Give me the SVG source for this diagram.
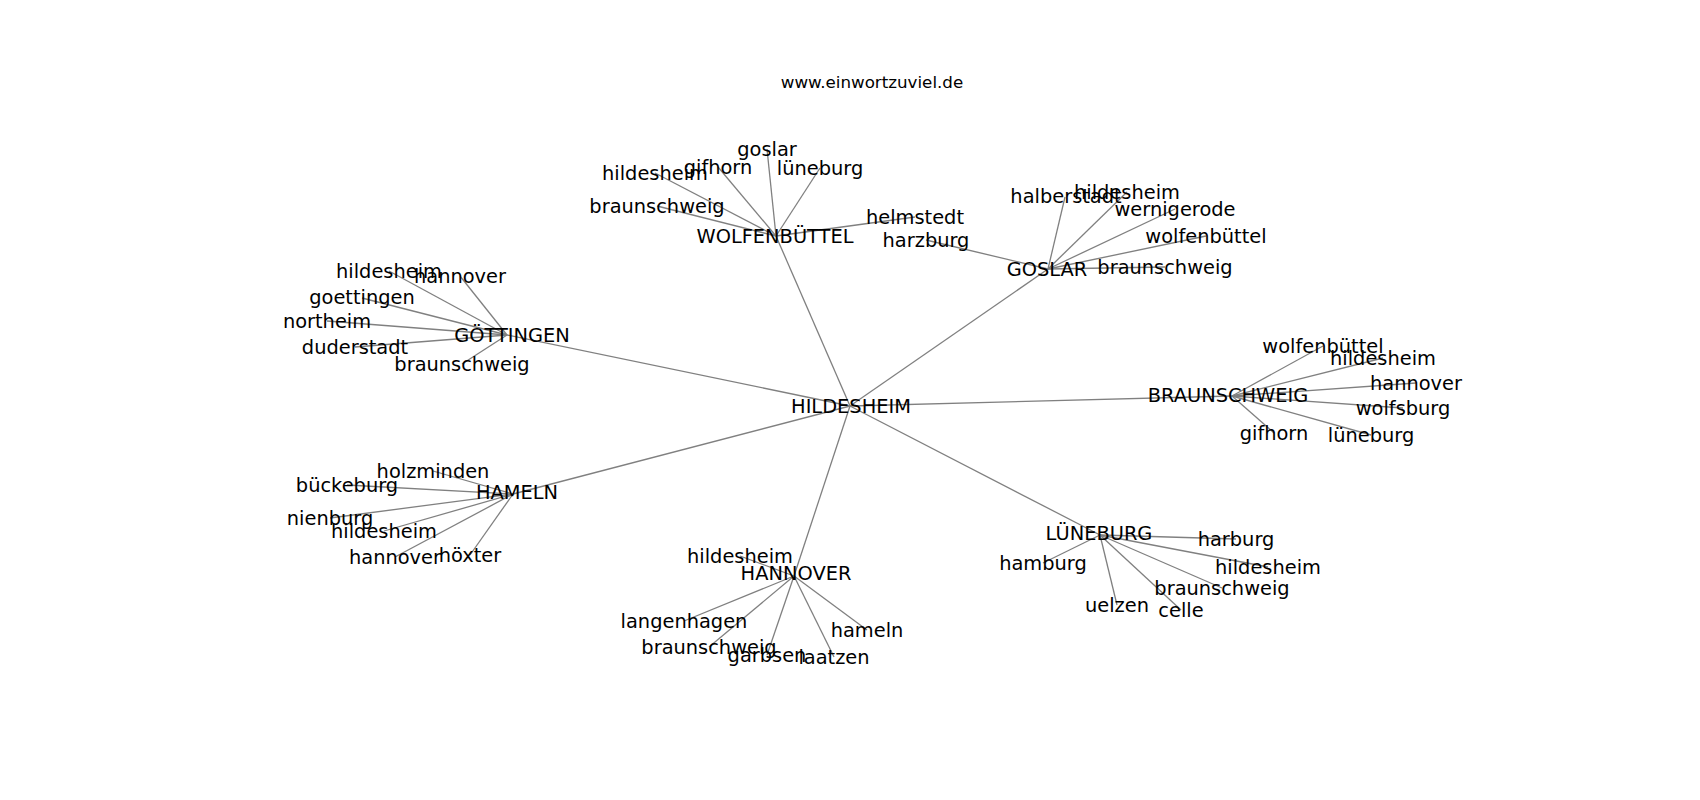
<svg xmlns="http://www.w3.org/2000/svg" width="1700" height="800" viewBox="0 0 1700 800">
<style>
.bg{fill:#ffffff}
.e{stroke:#808080;stroke-width:1.3;fill:none}
.n text{font-family:"DejaVu Sans",sans-serif;font-size:19.4px;fill:#000;text-anchor:middle;dominant-baseline:central}
.title{font-family:"DejaVu Sans",sans-serif;font-size:16.7px;fill:#000;text-anchor:middle}
</style>
<rect class="bg" x="0" y="0" width="1700" height="800"/>
<text class="title" x="872" y="88">www.einwortzuviel.de</text>
<g id="connectors">
<!-- hub -->
<line class="e" x1="850" y1="406" x2="776" y2="236"/>
<line class="e" x1="850" y1="406" x2="1048" y2="269"/>
<line class="e" x1="850" y1="406" x2="507" y2="335"/>
<line class="e" x1="850" y1="406" x2="1232" y2="396"/>
<line class="e" x1="850" y1="406" x2="513" y2="494"/>
<line class="e" x1="850" y1="406" x2="794" y2="576"/>
<line class="e" x1="850" y1="406" x2="1100" y2="535"/>
<!-- wolfenbuettel -->
<line class="e" x1="776" y1="236" x2="767" y2="149"/>
<line class="e" x1="776" y1="236" x2="718" y2="167"/>
<line class="e" x1="776" y1="236" x2="820" y2="168"/>
<line class="e" x1="776" y1="236" x2="655" y2="173"/>
<line class="e" x1="776" y1="236" x2="657" y2="206"/>
<line class="e" x1="776" y1="236" x2="915" y2="217"/>
<!-- goslar -->
<line class="e" x1="1048" y1="269" x2="1065" y2="197"/>
<line class="e" x1="1048" y1="269" x2="1127" y2="192"/>
<line class="e" x1="1048" y1="269" x2="1175" y2="209"/>
<line class="e" x1="1048" y1="269" x2="1206" y2="236"/>
<line class="e" x1="1048" y1="269" x2="1165" y2="267"/>
<line class="e" x1="1048" y1="269" x2="926" y2="240"/>
<!-- goettingen -->
<line class="e" x1="507" y1="335" x2="389" y2="271"/>
<line class="e" x1="507" y1="335" x2="460" y2="276"/>
<line class="e" x1="507" y1="335" x2="362" y2="298"/>
<line class="e" x1="507" y1="335" x2="327" y2="321"/>
<line class="e" x1="507" y1="335" x2="355" y2="347"/>
<line class="e" x1="507" y1="335" x2="462" y2="364"/>
<!-- braunschweig -->
<line class="e" x1="1232" y1="396" x2="1323" y2="346"/>
<line class="e" x1="1232" y1="396" x2="1383" y2="358"/>
<line class="e" x1="1232" y1="396" x2="1416" y2="383"/>
<line class="e" x1="1232" y1="396" x2="1403" y2="408"/>
<line class="e" x1="1232" y1="396" x2="1274" y2="433"/>
<line class="e" x1="1232" y1="396" x2="1371" y2="435"/>
<!-- hameln -->
<line class="e" x1="513" y1="494" x2="433" y2="471"/>
<line class="e" x1="513" y1="494" x2="347" y2="485"/>
<line class="e" x1="513" y1="494" x2="330" y2="518"/>
<line class="e" x1="513" y1="494" x2="384" y2="531"/>
<line class="e" x1="513" y1="494" x2="395" y2="557"/>
<line class="e" x1="513" y1="494" x2="470" y2="555"/>
<!-- hannover -->
<line class="e" x1="794" y1="576" x2="740" y2="556"/>
<line class="e" x1="794" y1="576" x2="684" y2="621"/>
<line class="e" x1="794" y1="576" x2="867" y2="630"/>
<line class="e" x1="794" y1="576" x2="709" y2="647"/>
<line class="e" x1="794" y1="576" x2="767" y2="655"/>
<line class="e" x1="794" y1="576" x2="834" y2="657"/>
<!-- lueneburg -->
<line class="e" x1="1100" y1="535" x2="1236" y2="539"/>
<line class="e" x1="1100" y1="535" x2="1043" y2="563"/>
<line class="e" x1="1100" y1="535" x2="1268" y2="567"/>
<line class="e" x1="1100" y1="535" x2="1222" y2="588"/>
<line class="e" x1="1100" y1="535" x2="1117" y2="605"/>
<line class="e" x1="1100" y1="535" x2="1181" y2="610"/>
</g>
<g class="n">
<g id="n-hildesheim"><text x="851" y="406">HILDESHEIM</text></g>
<g id="n-wolfenbuettel"><text x="775" y="236">WOLFENBÜTTEL</text></g>
<g id="n-w-goslar"><text x="767" y="149">goslar</text></g>
<g id="n-w-gifhorn"><text x="718" y="167">gifhorn</text></g>
<g id="n-w-lueneburg"><text x="820" y="168">lüneburg</text></g>
<g id="n-w-hildesheim"><text x="655" y="173">hildesheim</text></g>
<g id="n-w-braunschweig"><text x="657" y="206">braunschweig</text></g>
<g id="n-w-helmstedt"><text x="915" y="217">helmstedt</text></g>
<g id="n-goslar"><text x="1047" y="269">GOSLAR</text></g>
<g id="n-g-halberstadt"><text x="1066" y="196">halberstadt</text></g>
<g id="n-g-hildesheim"><text x="1127" y="192">hildesheim</text></g>
<g id="n-g-wernigerode"><text x="1175" y="209">wernigerode</text></g>
<g id="n-g-wolfenbuettel"><text x="1206" y="236">wolfenbüttel</text></g>
<g id="n-g-braunschweig"><text x="1165" y="267">braunschweig</text></g>
<g id="n-g-harzburg"><text x="926" y="240">harzburg</text></g>
<g id="n-goettingen"><text x="512" y="335">GÖTTINGEN</text></g>
<g id="n-go-hildesheim"><text x="389" y="271">hildesheim</text></g>
<g id="n-go-hannover"><text x="460" y="276">hannover</text></g>
<g id="n-go-goettingen"><text x="362" y="297">goettingen</text></g>
<g id="n-go-northeim"><text x="327" y="321">northeim</text></g>
<g id="n-go-duderstadt"><text x="355" y="347">duderstadt</text></g>
<g id="n-go-braunschweig"><text x="462" y="364">braunschweig</text></g>
<g id="n-braunschweig"><text x="1228" y="395">BRAUNSCHWEIG</text></g>
<g id="n-b-wolfenbuettel"><text x="1323" y="346">wolfenbüttel</text></g>
<g id="n-b-hildesheim"><text x="1383" y="358">hildesheim</text></g>
<g id="n-b-hannover"><text x="1416" y="383">hannover</text></g>
<g id="n-b-wolfsburg"><text x="1403" y="408">wolfsburg</text></g>
<g id="n-b-gifhorn"><text x="1274" y="433">gifhorn</text></g>
<g id="n-b-lueneburg"><text x="1371" y="435">lüneburg</text></g>
<g id="n-hameln"><text x="517" y="492">HAMELN</text></g>
<g id="n-h-holzminden"><text x="433" y="471">holzminden</text></g>
<g id="n-h-bueckeburg"><text x="347" y="485">bückeburg</text></g>
<g id="n-h-nienburg"><text x="330" y="518">nienburg</text></g>
<g id="n-h-hildesheim"><text x="384" y="531">hildesheim</text></g>
<g id="n-h-hannover"><text x="395" y="557">hannover</text></g>
<g id="n-h-hoexter"><text x="470" y="555">höxter</text></g>
<g id="n-hannover"><text x="796" y="573">HANNOVER</text></g>
<g id="n-ha-hildesheim"><text x="740" y="556">hildesheim</text></g>
<g id="n-ha-langenhagen"><text x="684" y="621">langenhagen</text></g>
<g id="n-ha-hameln"><text x="867" y="630">hameln</text></g>
<g id="n-ha-braunschweig"><text x="709" y="647">braunschweig</text></g>
<g id="n-ha-garbsen"><text x="767" y="655">garbsen</text></g>
<g id="n-ha-laatzen"><text x="834" y="657">laatzen</text></g>
<g id="n-lueneburg"><text x="1099" y="533">LÜNEBURG</text></g>
<g id="n-l-harburg"><text x="1236" y="539">harburg</text></g>
<g id="n-l-hamburg"><text x="1043" y="563">hamburg</text></g>
<g id="n-l-hildesheim"><text x="1268" y="567">hildesheim</text></g>
<g id="n-l-braunschweig"><text x="1222" y="588">braunschweig</text></g>
<g id="n-l-uelzen"><text x="1117" y="605">uelzen</text></g>
<g id="n-l-celle"><text x="1181" y="610">celle</text></g>
</g>
</svg>
